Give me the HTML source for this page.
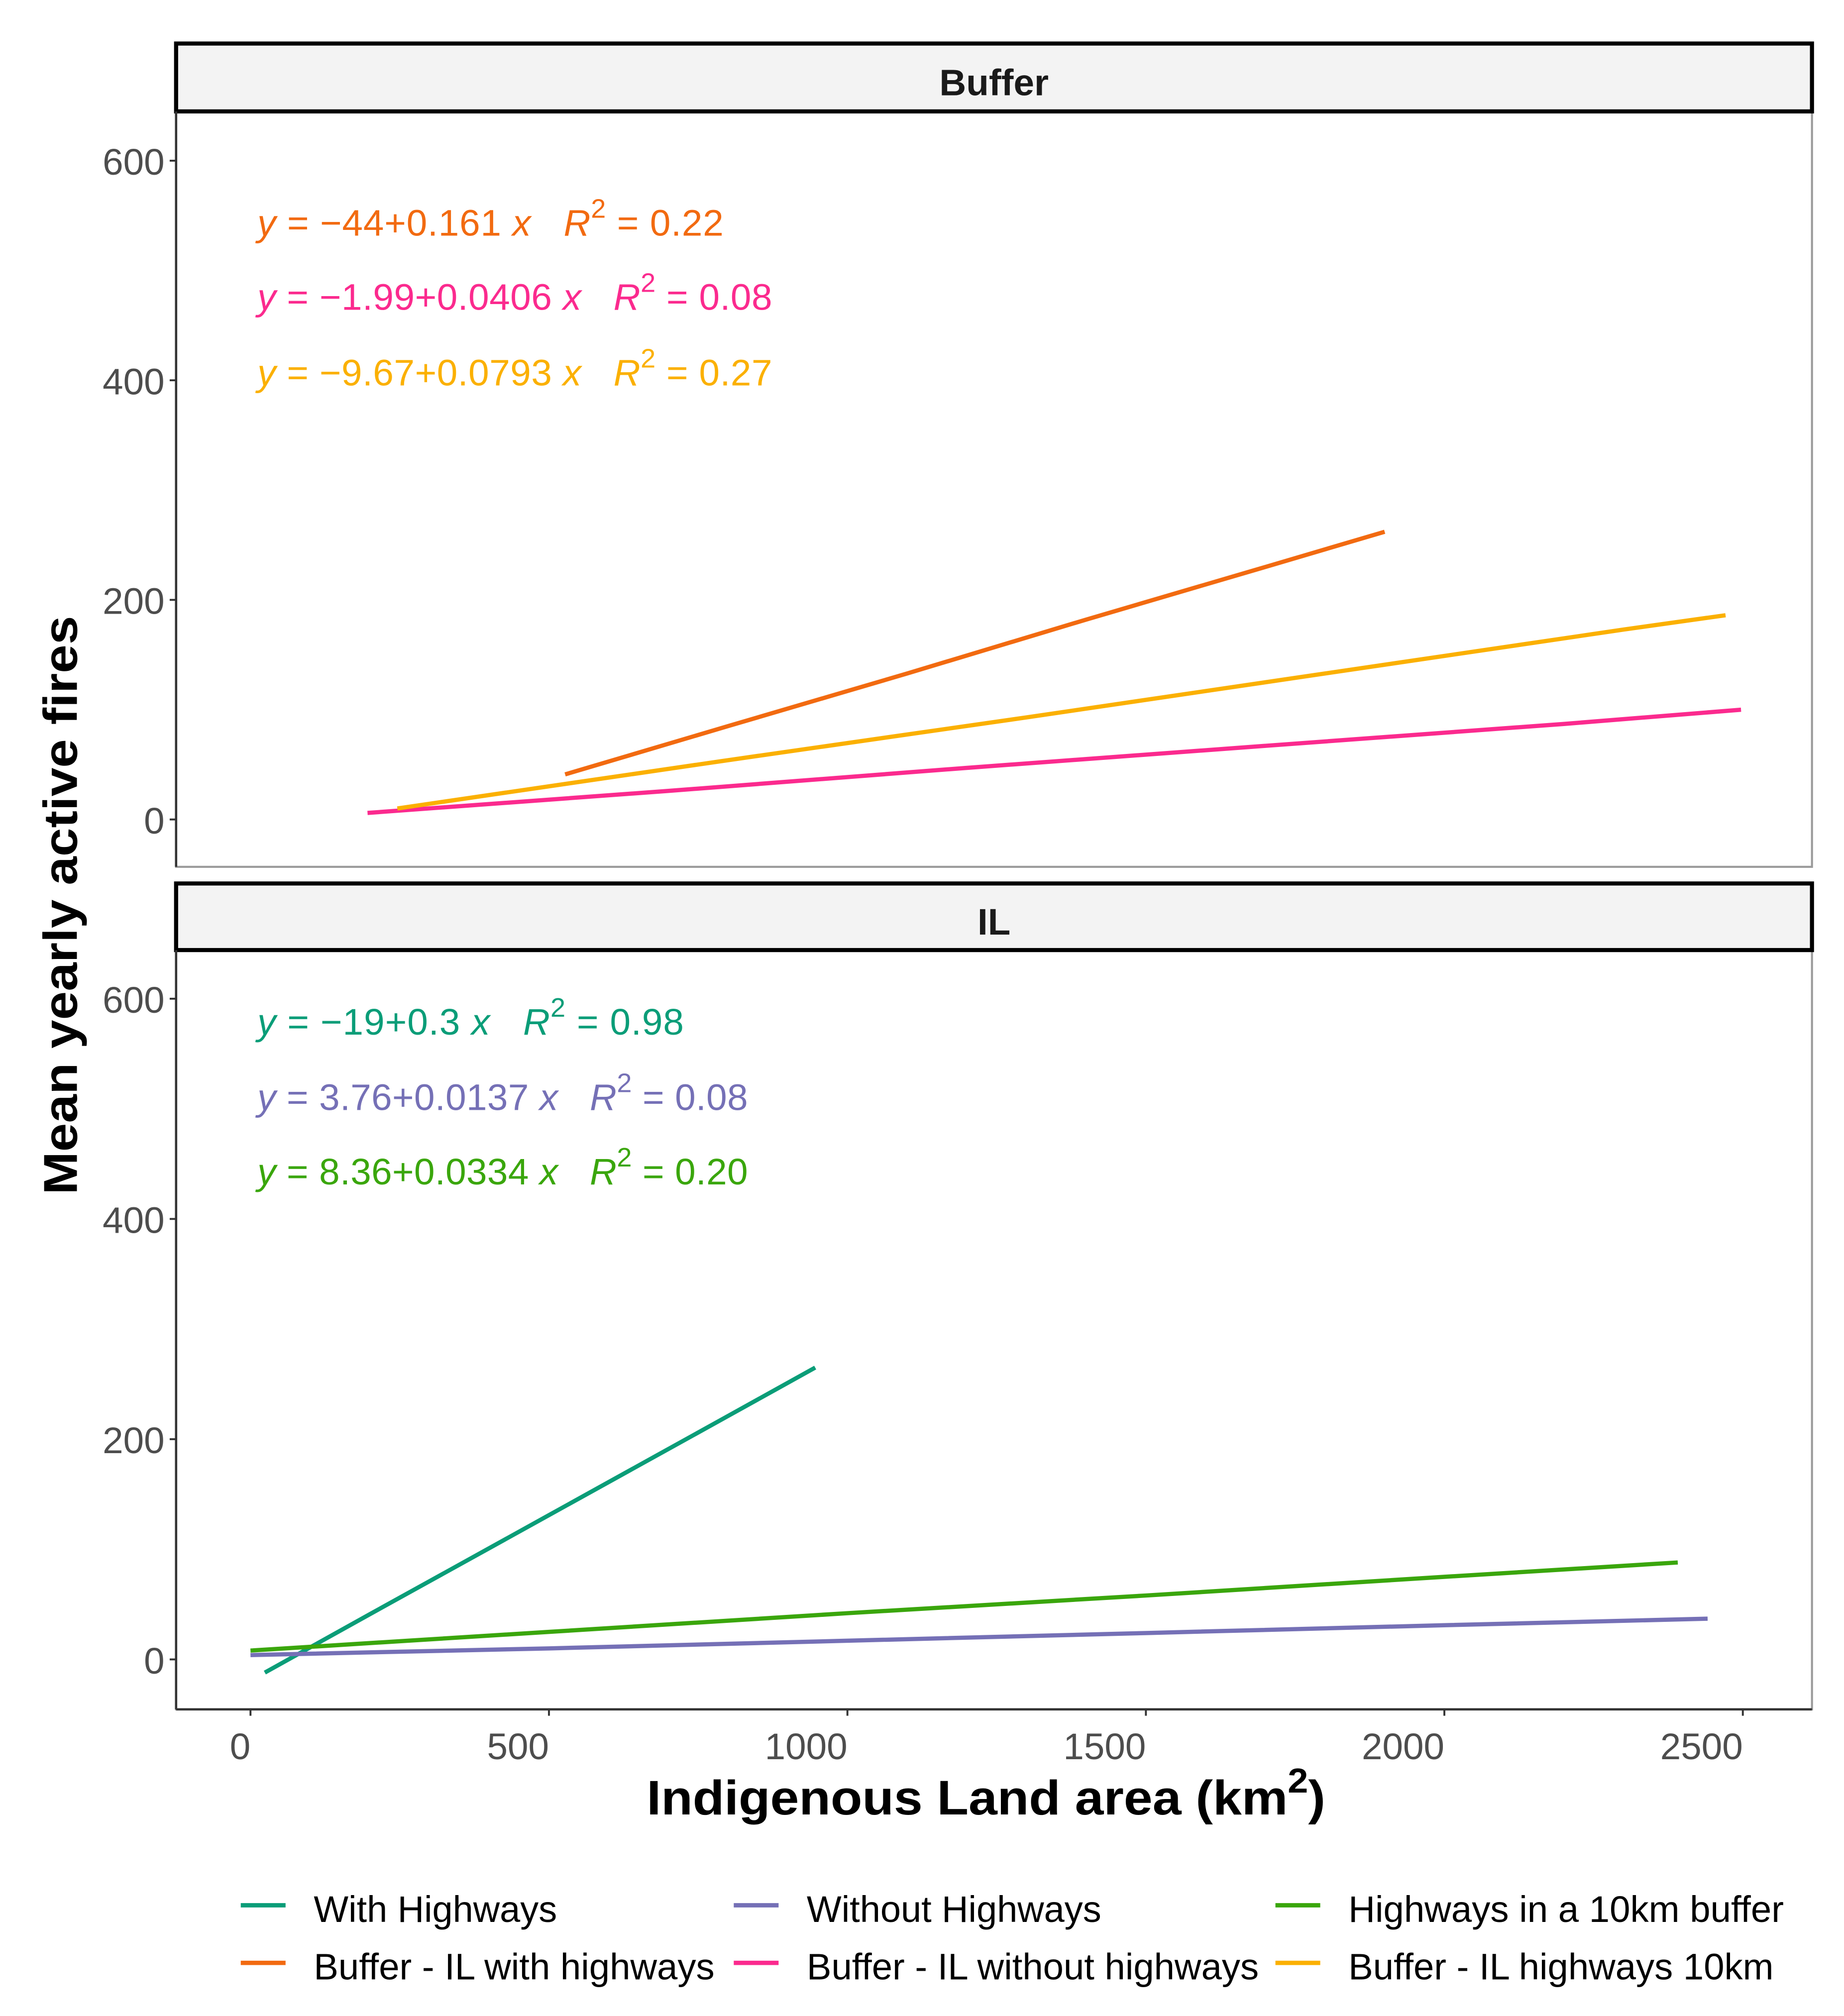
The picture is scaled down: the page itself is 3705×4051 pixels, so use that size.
<!DOCTYPE html>
<html><head><meta charset="utf-8">
<style>
html,body{margin:0;padding:0;background:#fff;}
svg{display:block;}
text{font-family:"Liberation Sans",Arial,sans-serif;}
</style></head>
<body>
<svg id="chart" width="3705" height="4051" viewBox="0 0 1440 1574.5" xmlns="http://www.w3.org/2000/svg">
<rect width="1440" height="1574.5" fill="#fff"/>
<g id="panels"></g>
<text transform="translate(60,707) rotate(-90)" text-anchor="middle" font-size="37" font-weight="bold" fill="#000" textLength="452" lengthAdjust="spacingAndGlyphs">Mean yearly active fires</text>
<text x="505" y="1417" font-size="38" font-weight="bold" fill="#000" textLength="530" lengthAdjust="spacingAndGlyphs">Indigenous Land area (km<tspan dy="-17" font-size="27">2</tspan><tspan dy="17">)</tspan></text>
<g id="legend"></g>
</svg>
<script>
// ---- data ----
const xTicks = [0, 500, 1000, 1500, 2000, 2500];
const yTicks = [0, 200, 400, 600];
const panelNames = ["Buffer", "IL"];

const seriesNames = ["With Highways","Without Highways","Highways in a 10km buffer","Buffer - IL with highways","Buffer - IL without highways","Buffer - IL highways 10km"];
const seriesColors = ["#0a9d78","#7570b6","#3aa60c","#f26a10","#fb2a8e","#fbb000"];
const seriesPanel = [1, 1, 1, 0, 0, 0];

// x (km2) and y (fires) values per series
const xWith = [24, 200, 400, 600, 800, 946];
const yWith = [-12, 41, 101, 161, 221, 265];
const xWithout = [0, 500, 1000, 1500, 2000, 2441];
const yWithout = [4, 10, 17, 24, 31, 37];
const xHw10 = [0, 500, 1000, 1500, 2000, 2391];
const yHw10 = [8, 25, 42, 58, 75, 88];
const xBufWith = [527, 800, 1100, 1400, 1700, 1900];
const yBufWith = [41, 85, 133, 182, 230, 262];
const xBufWithout = [196, 700, 1200, 1700, 2200, 2497];
const yBufWithout = [6, 26, 47, 67, 87, 100];
const xBuf10 = [246, 800, 1300, 1800, 2300, 2471];
const yBuf10 = [10, 54, 93, 133, 173, 186];

const eqTop = [
  {b:"−44+0.161", r:"0.22", c:"#f26a10"},
  {b:"−1.99+0.0406", r:"0.08", c:"#fb2a8e"},
  {b:"−9.67+0.0793", r:"0.27", c:"#fbb000"}
];
const eqBot = [
  {b:"−19+0.3", r:"0.98", c:"#0a9d78"},
  {b:"3.76+0.0137", r:"0.08", c:"#7570b6"},
  {b:"8.36+0.0334", r:"0.20", c:"#3aa60c"}
];

const seriesX = [xWith, xWithout, xHw10, xBufWith, xBufWithout, xBuf10];
const seriesY = [yWith, yWithout, yHw10, yBufWith, yBufWithout, yBuf10];

// ---- layout ----
const NS = "http://www.w3.org/2000/svg";
const L = 137.5, R = 1415;
const panels = [
  {stripTop:34, stripBot:87, top:87, bot:677, y0:640, y600:125.5},
  {stripTop:690, stripBot:742, top:742, bot:1335, y0:1296, y600:780}
];
const xScale = v => 195.6 + v * (1361 - 195.6) / 2500;
function yScale(p, v){ return p.y0 + v * (p.y600 - p.y0) / 600; }

function mk(tag, attrs, parent){
  const e = document.createElementNS(NS, tag);
  for (const k in attrs) e.setAttribute(k, attrs[k]);
  parent.appendChild(e);
  return e;
}

const gP = document.getElementById("panels");
panels.forEach((p, pi) => {
  const g = mk("g", {}, gP);
  
  
  const bg = mk("rect", {x:L, y:p.top, width:R-L, height:p.bot-p.top, fill:"#fff", stroke:"#9a9a9a", "stroke-width":1.6}, g);
  
  
  const strip = mk("rect", {x:L, y:p.stripTop, width:R-L, height:p.stripBot-p.stripTop, fill:"#f3f3f3", stroke:"#000", "stroke-width":3.2}, g);
  
  
  const st = mk("text", {x:(L+R)/2, y:(p.stripTop+p.stripBot)/2+14, "text-anchor":"middle", "font-size":29, "font-weight":"bold", fill:"#1a1a1a"}, g);
  st.textContent = panelNames[pi];
  
  
  const ya = mk("line", {x1:L, y1:p.top, x2:L, y2:p.bot, stroke:"#333", "stroke-width":1.8}, g);
  
  
  yTicks.forEach(t => {
    const y = yScale(p, t);
    const tk = mk("line", {x1:L-5, y1:y, x2:L, y2:y, stroke:"#333", "stroke-width":1.5}, g);
    
    
    const tl = mk("text", {x:L-9, y:y+11, "text-anchor":"end", "font-size":29, fill:"#4d4d4d"}, g);
    tl.textContent = t;
    
    
  });
  const eqs = pi === 0 ? eqTop : eqBot;
  const eqY = pi === 0 ? [184, 242, 301] : [808, 867, 925];
  const eqLen = pi === 0 ? [364, 402, 402] : [333, 383, 383];
  eqs.forEach((e, i) => {
    const t = mk("text", {x:201, y:eqY[i], "font-size":29, fill:e.c, textLength:eqLen[i], lengthAdjust:"spacing"}, g);
    
    
    t.innerHTML = '<tspan font-style="italic">y</tspan> = ' + e.b + ' <tspan font-style="italic">x</tspan>\u00a0\u00a0\u00a0<tspan font-style="italic">R</tspan><tspan dy="-14" font-size="21">2</tspan><tspan dy="14"> = ' + e.r + '</tspan>';
  });
  seriesNames.forEach((n, si) => {
    if (seriesPanel[si] !== pi) return;
    const xs = seriesX[si], ys = seriesY[si];
    const d = xs.map((x, k) => (k ? "L" : "M") + xScale(x).toFixed(1) + "," + yScale(p, ys[k]).toFixed(1)).join(" ");
    const path = mk("path", {d:d, fill:"none", stroke:seriesColors[si], "stroke-width":3.3, "stroke-linejoin":"round"}, g);
    
    
  });
  if (pi === 1) {
    const xa = mk("line", {x1:L, y1:p.bot, x2:R, y2:p.bot, stroke:"#333", "stroke-width":1.8}, g);
    
    
    xTicks.forEach(t => {
      const x = xScale(t);
      const tk = mk("line", {x1:x, y1:p.bot, x2:x, y2:p.bot+5, stroke:"#333", "stroke-width":1.5}, g);
      
      
      const tl = mk("text", {x:x, y:p.bot+39, "text-anchor":"end", "font-size":29, fill:"#4d4d4d"}, g);
      tl.textContent = t;
      
      
    });
  }
});

const gL = document.getElementById("legend");
const legCols = [188, 573, 996];
const legRows = [1491, 1536];
const legLen = [190, 230, 340, 313, 353, 332];
seriesNames.forEach((n, si) => {
  const col = si % 3, row = Math.floor(si / 3);
  const g = mk("g", {}, gL);
  
  
  const ln = mk("line", {x1:legCols[col], y1:legRows[row]-3, x2:legCols[col]+35, y2:legRows[row]-3, stroke:seriesColors[si], "stroke-width":3.4}, g);
  
  
  const tx = mk("text", {x:legCols[col]+57, y:legRows[row]+10, "font-size":29, fill:"#000", textLength:legLen[si], lengthAdjust:"spacingAndGlyphs"}, g);
  tx.textContent = n;
  
  
});
</script>
</body></html>
